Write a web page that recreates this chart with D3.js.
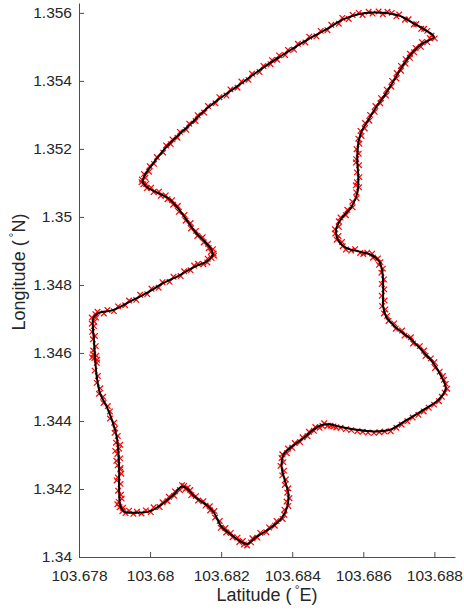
<!DOCTYPE html>
<html>
<head>
<meta charset="utf-8">
<script src="https://cdn.jsdelivr.net/npm/d3@7"></script>
<style>
  html, body { margin: 0; padding: 0; background: #fff; }
  svg { display: block; }
  text { font-family: "Liberation Sans", Arial, Helvetica, sans-serif; fill: #262626; }
</style>
</head>
<body>
<svg id="chart" width="464" height="612"></svg>
<script>
// Smoothed route (black line), longitude / latitude in degrees
const trackLon = [
  103.68799,103.68773,103.68740,103.68703,103.68670,103.68628,103.68586,103.68543,103.68497,103.68450,
  103.68403,103.68365,103.68337,103.68290,103.68244,103.68197,103.68150,103.68112,103.68075,103.68047,
  103.68009,103.67986,103.67979,103.67990,103.68023,103.68051,103.68075,103.68103,103.68126,103.68154,
  103.68173,103.68176,103.68159,103.68126,103.68084,103.68037,103.67990,103.67943,103.67896,103.67854,
  103.67840,103.67839,103.67842,103.67845,103.67850,103.67859,103.67878,103.67896,103.67906,103.67911,
  103.67913,103.67913,103.67917,103.67929,103.67962,103.68000,103.68037,103.68065,103.68089,103.68103,
  103.68126,103.68159,103.68178,103.68201,103.68225,103.68253,103.68272,103.68300,103.68337,103.68370,
  103.68386,103.68389,103.68379,103.68370,103.68375,103.68398,103.68431,103.68459,103.68483,103.68506,
  103.68534,103.68581,103.68628,103.68675,103.68722,103.68768,103.68811,103.68832,103.68820,103.68797,
  103.68768,103.68731,103.68694,103.68664,103.68656,103.68656,103.68654,103.68645,103.68623,103.68590,
  103.68553,103.68529,103.68523,103.68539,103.68567,103.68583,103.68586,103.68583,103.68586,103.68595,
  103.68614,103.68637,103.68661,103.68684,103.68703,103.68722,103.68740,103.68768
];
const trackLat = [
  1.35529,1.35550,1.35570,1.35591,1.35599,1.35601,1.35596,1.35581,1.35552,1.35526,
  1.35496,1.35471,1.35452,1.35418,1.35383,1.35349,1.35310,1.35271,1.35236,1.35207,
  1.35158,1.35124,1.35104,1.35089,1.35070,1.35055,1.35030,1.34991,1.34957,1.34927,
  1.34903,1.34888,1.34869,1.34854,1.34829,1.34805,1.34776,1.34751,1.34726,1.34717,
  1.34702,1.34677,1.34638,1.34589,1.34530,1.34482,1.34442,1.34393,1.34354,1.34305,
  1.34256,1.34197,1.34148,1.34133,1.34130,1.34135,1.34158,1.34182,1.34207,1.34202,
  1.34177,1.34153,1.34133,1.34089,1.34068,1.34047,1.34038,1.34060,1.34084,1.34114,
  1.34148,1.34187,1.34226,1.34266,1.34300,1.34324,1.34349,1.34374,1.34388,1.34390,
  1.34383,1.34374,1.34369,1.34374,1.34403,1.34432,1.34462,1.34496,1.34530,1.34570,
  1.34604,1.34643,1.34673,1.34707,1.34736,1.34785,1.34834,1.34869,1.34888,1.34898,
  1.34908,1.34932,1.34962,1.34996,1.35030,1.35070,1.35115,1.35168,1.35217,1.35251,
  1.35285,1.35324,1.35359,1.35398,1.35432,1.35462,1.35486,1.35511
];

// Raw GPS fixes (red crosses), [longitude, latitude]
const rawFixes = [
  [103.68801,1.35525],[103.68792,1.35533],[103.68780,1.35547],[103.68771,1.35553],[103.68763,1.35553],[103.68749,1.35567],
  [103.68742,1.35566],[103.68727,1.35581],[103.68717,1.35580],[103.68701,1.35595],[103.68693,1.35590],[103.68680,1.35600],
  [103.68668,1.35603],[103.68655,1.35596],[103.68643,1.35604],[103.68626,1.35598],[103.68615,1.35603],[103.68598,1.35594],
  [103.68587,1.35600],[103.68570,1.35594],[103.68559,1.35582],[103.68541,1.35585],[103.68531,1.35568],[103.68510,1.35565],
  [103.68499,1.35549],[103.68480,1.35547],[103.68468,1.35531],[103.68448,1.35530],[103.68437,1.35513],[103.68416,1.35509],
  [103.68405,1.35492],[103.68388,1.35491],[103.68380,1.35476],[103.68363,1.35475],[103.68358,1.35462],[103.68343,1.35461],
  [103.68339,1.35449],[103.68319,1.35444],[103.68308,1.35426],[103.68287,1.35421],[103.68277,1.35403],[103.68257,1.35398],
  [103.68246,1.35380],[103.68226,1.35375],[103.68215,1.35357],[103.68195,1.35352],[103.68184,1.35334],[103.68163,1.35326],
  [103.68152,1.35307],[103.68134,1.35299],[103.68128,1.35282],[103.68110,1.35274],[103.68102,1.35256],[103.68084,1.35250],
  [103.68077,1.35233],[103.68063,1.35228],[103.68058,1.35214],[103.68045,1.35210],[103.68037,1.35189],[103.68019,1.35176],
  [103.68011,1.35156],[103.67999,1.35149],[103.67997,1.35133],[103.67983,1.35126],[103.67987,1.35115],[103.67977,1.35110],
  [103.67976,1.35102],[103.67981,1.35096],[103.67989,1.35097],[103.67991,1.35085],[103.68003,1.35086],[103.68010,1.35073],
  [103.68025,1.35074],[103.68030,1.35062],[103.68044,1.35063],[103.68049,1.35052],[103.68062,1.35049],[103.68065,1.35036],
  [103.68078,1.35032],[103.68081,1.35015],[103.68097,1.35006],[103.68100,1.34989],[103.68114,1.34982],[103.68115,1.34966],
  [103.68129,1.34959],[103.68133,1.34944],[103.68148,1.34940],[103.68151,1.34925],[103.68163,1.34921],[103.68165,1.34908],
  [103.68177,1.34905],[103.68171,1.34897],[103.68179,1.34892],[103.68180,1.34886],[103.68173,1.34879],[103.68162,1.34877],
  [103.68161,1.34866],[103.68150,1.34861],[103.68135,1.34862],[103.68124,1.34857],[103.68114,1.34843],[103.68096,1.34840],
  [103.68086,1.34826],[103.68066,1.34824],[103.68055,1.34809],[103.68035,1.34808],[103.68024,1.34792],[103.68004,1.34789],
  [103.67992,1.34773],[103.67972,1.34771],[103.67961,1.34756],[103.67941,1.34754],[103.67930,1.34740],[103.67910,1.34737],
  [103.67898,1.34723],[103.67880,1.34726],[103.67870,1.34716],[103.67852,1.34721],[103.67846,1.34714],[103.67848,1.34704],
  [103.67836,1.34704],[103.67843,1.34692],[103.67836,1.34686],[103.67842,1.34679],[103.67837,1.34662],[103.67845,1.34650],
  [103.67839,1.34640],[103.67847,1.34620],[103.67840,1.34607],[103.67849,1.34592],[103.67837,1.34587],[103.67851,1.34580],
  [103.67840,1.34596],[103.67843,1.34585],[103.67850,1.34571],[103.67844,1.34548],[103.67853,1.34532],[103.67850,1.34512],
  [103.67860,1.34496],[103.67856,1.34480],[103.67868,1.34471],[103.67869,1.34453],[103.67881,1.34444],[103.67887,1.34428],
  [103.67887,1.34407],[103.67899,1.34395],[103.67902,1.34378],[103.67900,1.34365],[103.67909,1.34356],[103.67904,1.34336],
  [103.67913,1.34319],[103.67916,1.34330],[103.67902,1.34312],[103.67908,1.34303],[103.67916,1.34290],[103.67909,1.34270],
  [103.67917,1.34262],[103.67905,1.34283],[103.67916,1.34258],[103.67909,1.34234],[103.67917,1.34215],[103.67906,1.34225],
  [103.67919,1.34245],[103.67910,1.34195],[103.67918,1.34183],[103.67912,1.34162],[103.67920,1.34172],[103.67908,1.34155],
  [103.67914,1.34146],[103.67924,1.34145],[103.67922,1.34135],[103.67931,1.34129],[103.67941,1.34136],[103.67953,1.34127],
  [103.67963,1.34133],[103.67976,1.34128],[103.67988,1.34137],[103.68002,1.34132],[103.68010,1.34146],[103.68027,1.34147],
  [103.68035,1.34161],[103.68049,1.34164],[103.68053,1.34177],[103.68068,1.34180],[103.68070,1.34193],[103.68084,1.34197],
  [103.68090,1.34211],[103.68096,1.34209],[103.68100,1.34200],[103.68106,1.34204],[103.68113,1.34197],[103.68116,1.34182],
  [103.68129,1.34179],[103.68135,1.34166],[103.68150,1.34164],[103.68156,1.34151],[103.68168,1.34149],[103.68169,1.34137],
  [103.68181,1.34135],[103.68183,1.34116],[103.68196,1.34106],[103.68199,1.34086],[103.68212,1.34085],[103.68214,1.34072],
  [103.68227,1.34071],[103.68232,1.34058],[103.68246,1.34057],[103.68251,1.34044],[103.68261,1.34047],[103.68264,1.34037],
  [103.68273,1.34034],[103.68284,1.34043],[103.68288,1.34055],[103.68302,1.34057],[103.68310,1.34071],[103.68327,1.34073],
  [103.68335,1.34087],[103.68351,1.34092],[103.68356,1.34106],[103.68373,1.34112],[103.68378,1.34124],[103.68378,1.34139],
  [103.68389,1.34150],[103.68384,1.34163],[103.68392,1.34173],[103.68386,1.34189],[103.68389,1.34202],[103.68379,1.34212],
  [103.68382,1.34228],[103.68372,1.34240],[103.68377,1.34254],[103.68367,1.34268],[103.68375,1.34279],[103.68370,1.34291],
  [103.68372,1.34302],[103.68385,1.34305],[103.68388,1.34319],[103.68400,1.34321],[103.68407,1.34335],[103.68422,1.34338],
  [103.68429,1.34352],[103.68443,1.34355],[103.68447,1.34368],[103.68461,1.34371],[103.68465,1.34382],[103.68477,1.34380],
  [103.68485,1.34385],[103.68490,1.34393],[103.68500,1.34386],[103.68508,1.34386],[103.68516,1.34384],[103.68524,1.34381],
  [103.68536,1.34380],[103.68551,1.34376],[103.68566,1.34373],[103.68583,1.34370],[103.68598,1.34368],[103.68613,1.34366],
  [103.68630,1.34365],[103.68645,1.34367],[103.68660,1.34369],[103.68677,1.34370],[103.68693,1.34380],[103.68708,1.34389],
  [103.68724,1.34399],[103.68739,1.34410],[103.68755,1.34418],[103.68770,1.34428],[103.68784,1.34439],[103.68799,1.34448],
  [103.68813,1.34458],[103.68821,1.34471],[103.68829,1.34483],[103.68836,1.34495],[103.68832,1.34509],[103.68827,1.34521],
  [103.68824,1.34532],[103.68815,1.34545],[103.68802,1.34556],[103.68800,1.34573],[103.68790,1.34584],[103.68775,1.34591],
  [103.68771,1.34607],[103.68759,1.34620],[103.68740,1.34628],[103.68734,1.34646],[103.68716,1.34651],[103.68709,1.34666],
  [103.68691,1.34671],[103.68687,1.34687],[103.68671,1.34694],[103.68667,1.34709],[103.68658,1.34716],[103.68662,1.34728],
  [103.68653,1.34738],[103.68660,1.34754],[103.68652,1.34768],[103.68659,1.34787],[103.68652,1.34803],[103.68658,1.34816],
  [103.68651,1.34836],[103.68655,1.34848],[103.68644,1.34859],[103.68648,1.34867],[103.68641,1.34878],[103.68627,1.34880],
  [103.68625,1.34892],[103.68611,1.34895],[103.68600,1.34891],[103.68591,1.34894],[103.68577,1.34905],[103.68566,1.34901],
  [103.68551,1.34904],[103.68542,1.34914],[103.68540,1.34926],[103.68525,1.34933],[103.68530,1.34944],[103.68521,1.34951],
  [103.68520,1.34964],[103.68531,1.34971],[103.68531,1.34987],[103.68536,1.34998],[103.68551,1.35005],[103.68555,1.35021],
  [103.68570,1.35028],[103.68569,1.35045],[103.68581,1.35055],[103.68580,1.35072],[103.68588,1.35087],[103.68582,1.35102],
  [103.68579,1.35093],[103.68589,1.35117],[103.68582,1.35131],[103.68588,1.35152],[103.68579,1.35160],[103.68580,1.35170],
  [103.68587,1.35186],[103.68581,1.35199],[103.68589,1.35215],[103.68586,1.35230],[103.68595,1.35238],[103.68592,1.35253],
  [103.68604,1.35260],[103.68605,1.35276],[103.68617,1.35283],[103.68619,1.35300],[103.68632,1.35309],[103.68634,1.35326],
  [103.68648,1.35334],[103.68650,1.35349],[103.68664,1.35357],[103.68666,1.35374],[103.68679,1.35383],[103.68681,1.35400],
  [103.68693,1.35407],[103.68694,1.35423],[103.68706,1.35430],[103.68706,1.35444],[103.68719,1.35450],[103.68719,1.35464],
  [103.68731,1.35468],[103.68731,1.35480],[103.68743,1.35484],[103.68747,1.35497],[103.68762,1.35500],[103.68765,1.35514],
  [103.68780,1.35514],[103.68787,1.35526]
];

// Axis ticks and their labels
const xTicks = [103.678, 103.680, 103.682, 103.684, 103.686, 103.688];
const xTickLabels = ["103.678", "103.68", "103.682", "103.684", "103.686", "103.688"];
const yTicks = [1.340, 1.342, 1.344, 1.346, 1.348, 1.350, 1.352, 1.354, 1.356];
const yTickLabels = ["1.34", "1.342", "1.344", "1.346", "1.348", "1.35", "1.352", "1.354", "1.356"];
const xDomain = [103.678, 103.68858];
const yDomain = [1.340, 1.35629];

const svg = d3.select("#chart");
const plot = { left: 79, right: 455, top: 3, bottom: 557 };

const x = d3.scaleLinear().domain(xDomain).range([plot.left, plot.right]);
const y = d3.scaleLinear().domain(yDomain).range([plot.bottom, plot.top]);

// Raw fixes as red crosses
const cross = 2.8;
svg.append("g")
  .attr("fill", "none")
  .attr("stroke", "#ff0000")
  .attr("stroke-width", 1.2)
  .selectAll("path")
  .data(rawFixes)
  .join("path")
  .attr("transform", d => `translate(${x(d[0])},${y(d[1])})`)
  .attr("d", `M${-cross},${-cross}L${cross},${cross}M${-cross},${cross}L${cross},${-cross}`);

// Smoothed route on top
const track = trackLon.map((lon, i) => [lon, trackLat[i]]);
const line = d3.line()
  .x(d => x(d[0]))
  .y(d => y(d[1]))
  .curve(d3.curveCatmullRomClosed.alpha(0.5));
svg.append("path")
  .datum(track)
  .attr("fill", "none")
  .attr("stroke", "#000")
  .attr("stroke-width", 2)
  .attr("stroke-linejoin", "round")
  .attr("d", line);

// Axes with inward ticks
const axisColor = "#4d4d4d";
const xAxis = d3.axisBottom(x)
  .tickValues(xTicks)
  .tickFormat((d, i) => xTickLabels[i])
  .tickSizeInner(-5)
  .tickSizeOuter(0)
  .tickPadding(13);
const gx = svg.append("g")
  .attr("transform", `translate(0,${plot.bottom})`)
  .call(xAxis);

const yAxis = d3.axisLeft(y)
  .tickValues(yTicks)
  .tickFormat((d, i) => yTickLabels[i])
  .tickSizeInner(-5)
  .tickSizeOuter(0)
  .tickPadding(7);
const gy = svg.append("g")
  .attr("transform", `translate(${plot.left},0)`)
  .call(yAxis);

[gx, gy].forEach(g => {
  g.select(".domain").attr("stroke", axisColor).attr("stroke-width", 1);
  g.selectAll(".tick line").attr("stroke", axisColor).attr("stroke-width", 1);
  g.selectAll(".tick text")
    .attr("fill", "#262626")
    .style("font-size", "15.5px")
    .style("font-family", "'Liberation Sans', Arial, sans-serif");
});

// Axis titles with a raised degree sign
function title(sel, before, after) {
  sel.append("tspan").text(before);
  sel.append("tspan").attr("dx", 3).attr("dy", -7).style("font-size", "12px").text("°");
  sel.append("tspan").attr("dx", 0).attr("dy", 7).text(after);
}
const xTitle = svg.append("text")
  .attr("x", (plot.left + plot.right) / 2)
  .attr("y", 601)
  .attr("text-anchor", "middle")
  .style("font-size", "18px");
title(xTitle, "Latitude (", "E)");

const yTitle = svg.append("text")
  .attr("transform", `translate(25,${(plot.top + plot.bottom) / 2 - 8}) rotate(-90)`)
  .attr("text-anchor", "middle")
  .style("font-size", "18px");
title(yTitle, "Longitude (", "N)");
</script>
</body>
</html>
